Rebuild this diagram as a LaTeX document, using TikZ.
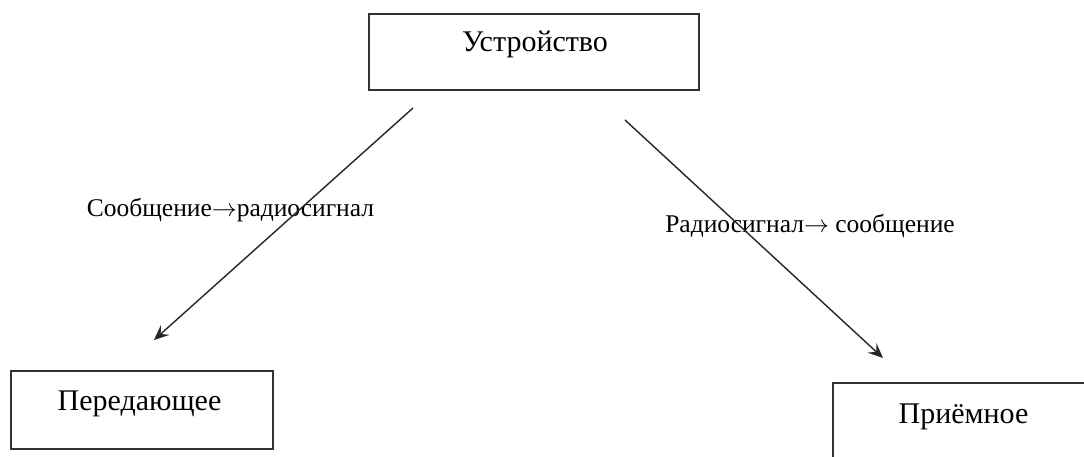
\documentclass[tikz,border=0pt]{standalone}
\usepackage{fontspec}
\setmainfont{Liberation Serif}
\usetikzlibrary{arrows.meta}
\newcommand{\rarr}{\ensuremath{\rightarrow}}
\begin{document}
\begin{tikzpicture}[x=1pt,y=-1pt,
  boxnode/.style={draw=black!80,line width=1.6pt,inner sep=0pt},
  boxtext/.style={anchor=base,inner sep=0pt,font=\fontsize{30}{34}\selectfont},
  lbltext/.style={anchor=base,inner sep=0pt,font=\fontsize{25.5}{29}\selectfont},
  conn/.style={draw=black!85,line width=1.4pt,-{Stealth[length=15pt,width=13pt,inset=6pt]}}]
\clip (0,0) rectangle (1084,457);
\fill[white] (0,0) rectangle (1084,457);
% boxes
\node[boxnode,minimum width=330pt,minimum height=76pt] (dev) at (534,52) {};
\node[boxnode,minimum width=262pt,minimum height=78pt] (tx) at (142,410) {};
\node[boxnode,minimum width=260pt,minimum height=90pt] (rx) at (963,428) {};
% texts
\node[boxtext] (devt) at (535,52) {Устройство};
\node[boxtext] (txt) at (139.5,410) {Передающее};
\node[boxtext] (rxt) at (963.5,423) {Приёмное};
\node[lbltext] (l1) at (230.5,216) {Сообщение\rarr радиосигнал};
\node[lbltext] (l2) at (810,233) {Радиосигнал\rarr{} сообщение};
% connector ends
\coordinate (a1) at (413,108);
\coordinate (b1) at (154,340);
\coordinate (a2) at (625,120);
\coordinate (b2) at (883,358);
\draw[conn] (a1) -- (b1);
\draw[conn] (a2) -- (b2);
\end{tikzpicture}
\end{document}
